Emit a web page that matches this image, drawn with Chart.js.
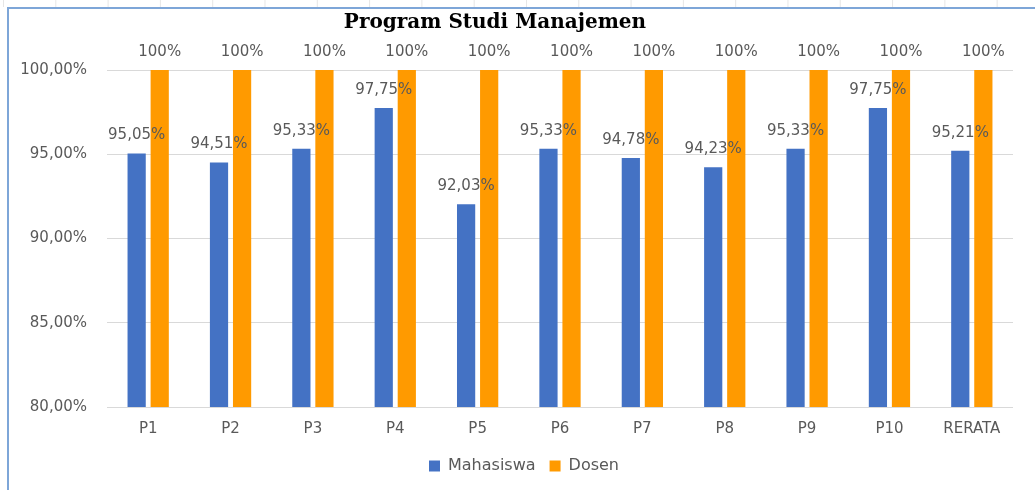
<!DOCTYPE html>
<html>
<head>
<meta charset="utf-8">
<script src="https://cdn.jsdelivr.net/npm/chart.js@4.4.0/dist/chart.umd.min.js"></script>
<style>
  html, body { margin: 0; padding: 0; background: #fff; overflow: hidden; }
  #strip {
    position: absolute; left: 0; top: 0; width: 1035px; height: 7px;
    background-image: linear-gradient(to right, transparent 51px, #e6e6e6 51px, #e6e6e6 52px, transparent 52px);
    background-size: 52.3px 7px;
    background-position: 4px 0;
  }
  #frame {
    position: absolute; left: 7px; top: 7px; width: 1040px; height: 500px;
    border-left: 2px solid #7ea6d8; border-top: 2px solid #7ea6d8;
  }
  #wrap { position: absolute; left: 0; top: 0; width: 1035px; height: 490px; }
</style>
</head>
<body>
<div id="strip"></div>
<div id="frame"></div>
<div id="wrap"><canvas id="canvas_0"></canvas></div>
<script>
var categories = ['P1', 'P2', 'P3', 'P4', 'P5', 'P6', 'P7', 'P8', 'P9', 'P10', 'RERATA'];
var mahasiswa = [95.05, 94.51, 95.33, 97.75, 92.03, 95.33, 94.78, 94.23, 95.33, 97.75, 95.21];
var dosen = [100, 100, 100, 100, 100, 100, 100, 100, 100, 100, 100];
var yTicks = [80, 85, 90, 95, 100];

var labelFont = 'DejaVu Sans';
var textColor = '#595959';

function fmtComma(v) {
    return v.toFixed(2).replace('.', ',') + '%';
}

// value labels above each bar
var barLabels = {
    id: 'barLabels',
    afterLayout: function (chart) {
        // nudge title left and legend right like the original sheet
        chart.titleBlock.left -= 15;
        chart.titleBlock.right -= 15;
        chart.legend.left += 14;
        chart.legend.right += 14;
    },
    afterDatasetsDraw: function (chart) {
        var ctx = chart.ctx;
        ctx.save();
        ctx.font = '15px "' + labelFont + '"';
        ctx.fillStyle = textColor;
        ctx.textAlign = 'center';
        ctx.textBaseline = 'middle';
        chart.data.datasets.forEach(function (ds, i) {
            chart.getDatasetMeta(i).data.forEach(function (bar, j) {
                var v = ds.data[j];
                var txt = i === 0 ? fmtComma(v) : v + '%';
                ctx.fillText(txt, bar.x, bar.y - 18);
            });
        });
        ctx.restore();
    }
};

function draw_chart() {
    var ctx = document.getElementById('canvas_0');
    new Chart(ctx, {
        type: 'bar',
        data: {
            labels: categories,
            datasets: [
                { label: 'Mahasiswa', data: mahasiswa, backgroundColor: '#4472c4',
                  categoryPercentage: 0.56, barPercentage: 0.79 },
                { label: 'Dosen', data: dosen, backgroundColor: '#ff9a00',
                  categoryPercentage: 0.56, barPercentage: 0.79 }
            ]
        },
        options: {
            responsive: true,
            maintainAspectRatio: false,
            animation: false,
            layout: { padding: { left: 7, right: 22, top: 0, bottom: 6 } },
            plugins: {
                title: {
                    display: true,
                    text: 'Program Studi Manajemen',
                    color: '#000',
                    font: { family: 'DejaVu Serif', size: 20, weight: 'bold' },
                    padding: { top: 11, bottom: 35 }
                },
                legend: {
                    position: 'bottom',
                    labels: {
                        color: textColor,
                        boxWidth: 11, boxHeight: 11,
                        padding: 14,
                        font: { family: labelFont, size: 16 }
                    }
                },
                tooltip: { enabled: false }
            },
            scales: {
                x: {
                    grid: { display: false },
                    border: { display: false },
                    afterFit: function (scale) { scale.height = scale.height + 1; },
                    ticks: { color: textColor, padding: 5, font: { family: labelFont, size: 15 } }
                },
                y: {
                    min: 80, max: 100,
                    afterBuildTicks: function (scale) {
                        scale.ticks = yTicks.map(function (v) { return { value: v }; });
                    },
                    afterFit: function (scale) { scale.width = 100; },
                    grid: { color: '#d9d9d9', drawTicks: false },
                    border: { display: false },
                    ticks: {
                        color: textColor, padding: 20,
                        font: { family: labelFont, size: 15 },
                        callback: function (v) { return fmtComma(v); }
                    }
                }
            }
        },
        plugins: [barLabels]
    });
}

draw_chart();
</script>
</body>
</html>
